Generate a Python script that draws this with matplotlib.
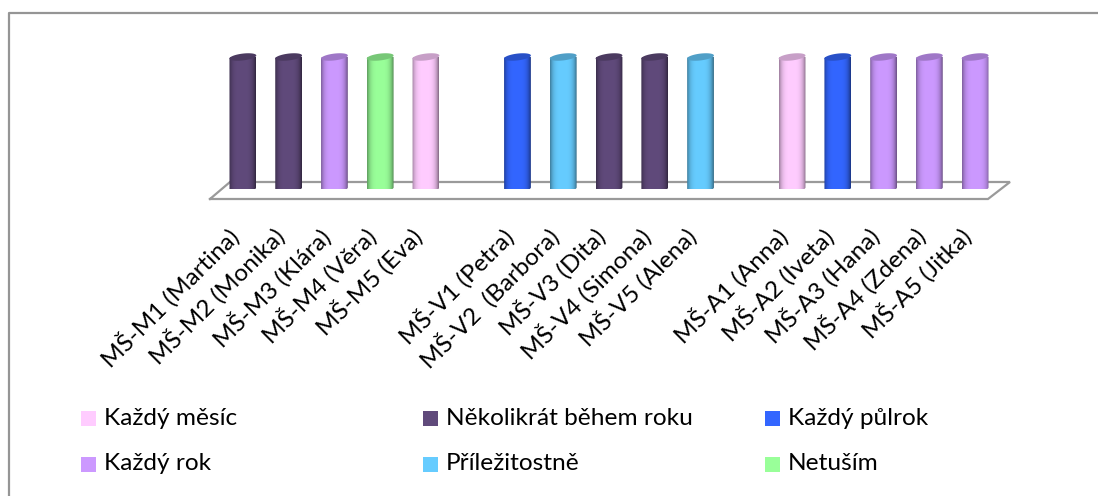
import matplotlib
matplotlib.use('Agg')
import matplotlib.pyplot as plt
import matplotlib.patches as patches
from matplotlib.path import Path
import numpy as np

plt.rcParams['font.family'] = ['Lato', 'DejaVu Sans']

W, H = 1098, 496

# blank strings are the empty slots between the three groups
categories = [
    "MŠ-M1 (Martina)", "MŠ-M2 (Monika)", "MŠ-M3 (Klára)", "MŠ-M4 (Věra)", "MŠ-M5 (Eva)",
    "",
    "MŠ-V1 (Petra)", "MŠ-V2  (Barbora)", "MŠ-V3 (Dita)", "MŠ-V4 (Simona)", "MŠ-V5 (Alena)",
    "",
    "MŠ-A1 (Anna)", "MŠ-A2 (Iveta)", "MŠ-A3 (Hana)", "MŠ-A4 (Zdena)", "MŠ-A5 (Jitka)",
]
answers = [
    "Několikrát během roku", "Několikrát během roku", "Každý rok", "Netuším", "Každý měsíc",
    None,
    "Každý půlrok", "Příležitostně", "Několikrát během roku", "Několikrát během roku", "Příležitostně",
    None,
    "Každý měsíc", "Každý půlrok", "Každý rok", "Každý rok", "Každý rok",
]
values = [1, 1, 1, 1, 1, 0, 1, 1, 1, 1, 1, 0, 1, 1, 1, 1, 1]

legend_labels = ["Každý měsíc", "Několikrát během roku", "Každý půlrok",
                 "Každý rok", "Příležitostně", "Netuším"]
legend_colors = ["#FFCCFF", "#604A7B", "#3366FF", "#CC99FF", "#66CCFF", "#99FF99"]
color_of = dict(zip(legend_labels, legend_colors))


def px_rect(x0, y0, x1, y1):
    # pixel box (top-left origin) to figure fractions
    return [x0 / W, 1 - y1 / H, (x1 - x0) / W, (y1 - y0) / H]


def make_chart(out_path):
    fig = plt.figure(figsize=(W / 100, H / 100), dpi=100, facecolor='white')

    # outer frame
    fig.add_artist(plt.Line2D([8.5 / W, 8.5 / W, 1], [0, 1 - 12.5 / H, 1 - 12.5 / H],
                              color='#959595', lw=1.6, transform=fig.transFigure))

    ax = fig.add_axes(px_rect(220, 57, 998, 189))
    ax.set_xlim(-0.5, 16.5)
    ax.set_ylim(0, 1)
    ax.axis('off')

    px_x = 778 / 17.0   # pixels per category
    px_y = 132.0        # pixels per unit of value

    # floor of the 3D plot, pixels from the axes corner, up positive
    fx = np.array([-10, 10, 790, 768, -10])
    fy = np.array([-10, 7, 7, -10, -10])
    ax.plot(-0.5 + fx / px_x, fy / px_y, color='#9A9A9A', lw=1.6,
            clip_on=False, zorder=1, solid_joinstyle='miter')

    # cylinder shading across the bar
    t = np.linspace(-1, 1, 60)
    shade = 1 - 0.38 * np.abs(t) ** 4
    shade = shade - 0.10 * np.clip(t, 0, 1) ** 3

    r_x, r_y = 13.5, 3.4
    angle = np.radians(7)
    th = np.linspace(0, 2 * np.pi, 80)
    ex = r_x * np.cos(th) * np.cos(angle) - r_y * np.sin(th) * np.sin(angle)
    ey = r_x * np.cos(th) * np.sin(angle) + r_y * np.sin(th) * np.cos(angle)
    dx, dy = ex / px_x, ey / px_y

    for i, (val, ans) in enumerate(zip(values, answers)):
        if not val:
            continue
        rgb = np.array(matplotlib.colors.to_rgb(color_of[ans]))
        img = np.clip(rgb[None, None, :] * shade[None, :, None], 0, 1)
        half = r_x / px_x
        ext = [i - half, i + half, -8 / px_y, val + 8 / px_y]
        im = ax.imshow(img, extent=ext, aspect='auto', zorder=3, interpolation='bilinear')

        # body outline: lower half of bottom ellipse joined to the top ellipse
        low = th > np.pi
        verts = list(zip(i + dx[low], dy[low]))
        verts += list(zip(i + dx[~low], val + dy[~low]))
        verts.append(verts[0])
        clip = patches.PathPatch(Path(verts), transform=ax.transData, fc='none', ec='none')
        ax.add_patch(clip)
        im.set_clip_path(clip)

        # top cap, darker than the side
        ax.fill(i + dx, val + dy, color=rgb * 0.78, lw=0, zorder=4, clip_on=False)

    ax.set_xlim(-0.5, 16.5)
    ax.set_ylim(0, 1)

    # category labels, rotated, ending under each bar
    for i, lab in enumerate(categories):
        if lab:
            ax.annotate(lab, xy=(i, 0), xytext=(-12, -25), textcoords='offset points',
                        rotation=45, ha='right', va='top', rotation_mode='anchor',
                        fontsize=17.5, color='black', annotation_clip=False)

    # legend in three fixed columns
    col_x = [81, 423, 765]
    row_y = [418.5, 464]
    for k, (lab, col) in enumerate(zip(legend_labels, legend_colors)):
        x = col_x[k % 3]
        y = row_y[k // 3]
        fig.add_artist(patches.Rectangle((x / W, 1 - (y + 7.5) / H), 15 / W, 15 / H, fc=col, ec='none',
                                         transform=fig.transFigure))
        fig.text((x + 22.5) / W, 1 - y / H, lab, fontsize=17.6, va='center', ha='left', color='black')

    fig.savefig(out_path, dpi=100, facecolor='white')
    plt.close(fig)


if __name__ == '__main__':
    make_chart('out.png')
